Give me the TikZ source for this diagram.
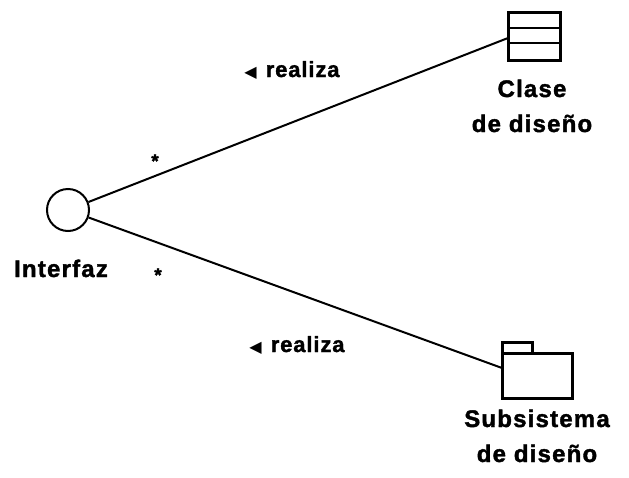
\documentclass[tikz,border=0pt]{standalone}
\usepackage{fontspec}
\newfontfamily\lblfont{Liberation Sans Bold}[LetterSpace=5,FakeBold=1.6]
\newfontfamily\relfont{Liberation Sans Bold}[LetterSpace=4,FakeBold=1.6]
\newfontfamily\symfont{DejaVu Sans}
\usetikzlibrary{positioning}
\usetikzlibrary{calc}

\begin{document}
\begin{tikzpicture}[x=1pt,y=-1pt,line width=2pt,
	label/.style={font=\lblfont\fontsize{24}{35}\selectfont,align=center,inner sep=0pt},
	rel/.style={font=\relfont\fontsize{22}{22}\selectfont,inner sep=0pt},
	mult/.style={font=\lblfont\fontsize{19}{19}\selectfont,inner sep=0pt}]
	\tikzstyle{iface}=[circle,draw,minimum size=42pt,inner sep=0pt]
	\useasboundingbox (0,0) rectangle (629,477);

	% interfaz
	\node[iface] (Iface) at (68,210) {};
	\node[label,anchor=base] (IfaceLbl) at (61,277) {Interfaz};

	% clase de diseno
	\draw[line width=3pt] (508,12) rectangle (560,60);
	\draw (508,28) -- (560,28) (508,43) -- (560,43);
	\coordinate (Clase) at (508,38);
	\node[label,anchor=base] (ClaseLbl) at (532,132) {Clase\\de diseño};

	% subsistema de diseno
	\draw[line width=3pt] (502,342) rectangle (532,353);
	\draw[line width=3pt] (502,353) rectangle (572,398);
	\coordinate (Subsis) at (502,368);
	\node[label,anchor=base] (SubsisLbl) at (537,462) {Subsistema\\de diseño};

	% realizaciones
	\draw (Iface) -- (Clase);
	\draw (Iface) -- (Subsis);
	\node[rel,anchor=base] (Real1) at (292,77) {{\symfont\fontsize{16}{16}\selectfont ◀}\hspace{9pt}realiza};
	\node[rel,anchor=base] (Real2) at (297,352) {{\symfont\fontsize{16}{16}\selectfont ◀}\hspace{9pt}realiza};
	\node[mult] (Mult1) at (155,161) {*};
	\node[mult] (Mult2) at (158,275) {*};
\end{tikzpicture}
\end{document}
